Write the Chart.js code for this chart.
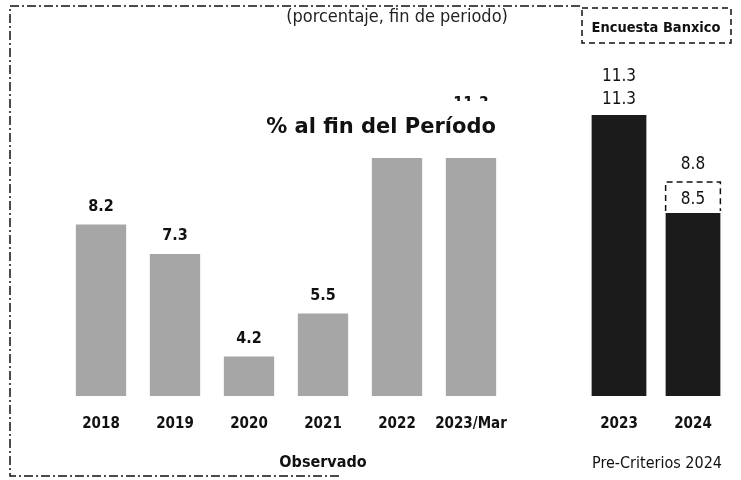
<!DOCTYPE html>
<html>
<head>
<meta charset="utf-8">
<script src="https://cdn.jsdelivr.net/npm/chart.js@4.4.0/dist/chart.umd.min.js"></script>
<style>
  html, body { margin: 0; padding: 0; background: #fff; }
  #wrap { width: 741px; height: 480px; position: relative; }
</style>
</head>
<body>
<div id="wrap"><canvas id="chart"></canvas></div>
<script>
// data
const categories = ["2018", "2019", "2020", "2021", "2022", "2023/Mar", "", "2023", "2024"];
const observado = [8.2, 7.3, 4.2, 5.5, 10.5, 11.3, null, null, null];
const preCriterios = [null, null, null, null, null, null, null, 11.3, 8.5];
const encuestaBanxico = [null, null, null, null, null, null, null, 11.3, 8.8];
const boxedCategory = "2024";

const COND = '"DejaVu Sans Condensed", "Liberation Sans Narrow", "DejaVu Sans", sans-serif';
const WIDE = '"DejaVu Sans", sans-serif';

const barLabels = {
  id: "barLabels",
  afterDatasetsDraw(chart) {
    const ctx = chart.ctx;
    ctx.save();
    ctx.textAlign = "center";
    ctx.textBaseline = "middle";
    ctx.fillStyle = "#111";

    ctx.font = "bold 16px " + COND;
    chart.getDatasetMeta(0).data.forEach((bar, i) => {
      if (observado[i] == null) return;
      ctx.fillText(observado[i].toFixed(1), bar.x, bar.y - 18);
    });

    ctx.font = "17px " + COND;
    chart.getDatasetMeta(1).data.forEach((bar, i) => {
      if (preCriterios[i] == null) return;
      const boxed = categories[i] === boxedCategory;
      const y1 = bar.y - (boxed ? 13 : 15);
      ctx.fillText(preCriterios[i].toFixed(1), bar.x, y1);
      if (boxed) {
        const half = bar.width / 2;
        ctx.save();
        ctx.strokeStyle = "#111";
        ctx.lineWidth = 1.5;
        ctx.setLineDash([6, 4]);
        ctx.beginPath();
        ctx.moveTo(bar.x - half, bar.y - 2);
        ctx.lineTo(bar.x - half, bar.y - 31);
        ctx.lineTo(bar.x + half, bar.y - 31);
        ctx.lineTo(bar.x + half, bar.y - 2);
        ctx.stroke();
        ctx.restore();
      }
      ctx.fillText(encuestaBanxico[i].toFixed(1), bar.x, y1 - (boxed ? 35 : 23));
    });
    ctx.restore();
  }
};

const frame = {
  id: "frame",
  afterDraw(chart) {
    const ctx = chart.ctx;
    ctx.save();

    // white box behind the title hides the top of the last two grey bars
    ctx.fillStyle = "#fff";
    ctx.fillRect(250, 101, 262, 57);

    ctx.fillStyle = "#111";
    ctx.textAlign = "center";
    ctx.textBaseline = "middle";
    ctx.font = "bold 21px " + WIDE;
    ctx.fillText("% al fin del Período", 381, 128);

    ctx.fillStyle = "#222";
    ctx.font = "18px " + COND;
    ctx.fillText("(porcentaje, fin de periodo)", 397, 17);

    ctx.fillStyle = "#111";
    ctx.font = "bold 14.5px " + COND;
    ctx.fillText("Encuesta Banxico", 656, 28);
    ctx.font = "bold 16px " + COND;
    ctx.fillText("Observado", 323, 463);
    ctx.font = "16px " + COND;
    ctx.fillText("Pre-Criterios 2024", 657, 464);

    // dash-dot outer frame
    ctx.strokeStyle = "#111";
    ctx.lineWidth = 1.5;
    ctx.setLineDash([9, 3, 2, 3]);
    ctx.beginPath();
    ctx.moveTo(580, 6);
    ctx.lineTo(10, 6);
    ctx.lineTo(10, 476);
    ctx.lineTo(340, 476);
    ctx.stroke();

    // dashed legend box
    ctx.setLineDash([6, 4]);
    ctx.strokeRect(582, 8, 149, 35);
    ctx.restore();
  }
};

new Chart(document.getElementById("chart"), {
  type: "bar",
  data: {
    labels: categories,
    datasets: [
      {
        label: "Observado",
        data: observado,
        backgroundColor: "#a6a6a6",
        barPercentage: 0.68,
        categoryPercentage: 1,
        grouped: false,
        yAxisID: "y"
      },
      {
        label: "Pre-Criterios 2024",
        data: preCriterios,
        backgroundColor: "#1b1b1b",
        barPercentage: 0.74,
        categoryPercentage: 1,
        grouped: false,
        yAxisID: "y2"
      }
    ]
  },
  options: {
    responsive: true,
    maintainAspectRatio: false,
    animation: false,
    layout: { padding: { left: 64, right: 11, top: 66, bottom: 28 } },
    plugins: {
      legend: { display: false },
      tooltip: { enabled: false }
    },
    scales: {
      x: {
        grid: { display: false, drawTicks: false },
        border: { display: false },
        ticks: {
          padding: 19,
          color: "#111",
          autoSkip: false,
          maxRotation: 0,
          font: { family: COND, size: 15, weight: "bold" }
        }
      },
      y: { display: false, min: 3, max: 13 },
      // the projection panel sits on its own slightly different scale
      y2: { display: false, min: 3.27, max: 12.7 }
    }
  },
  plugins: [barLabels, frame]
});
</script>
</body>
</html>
